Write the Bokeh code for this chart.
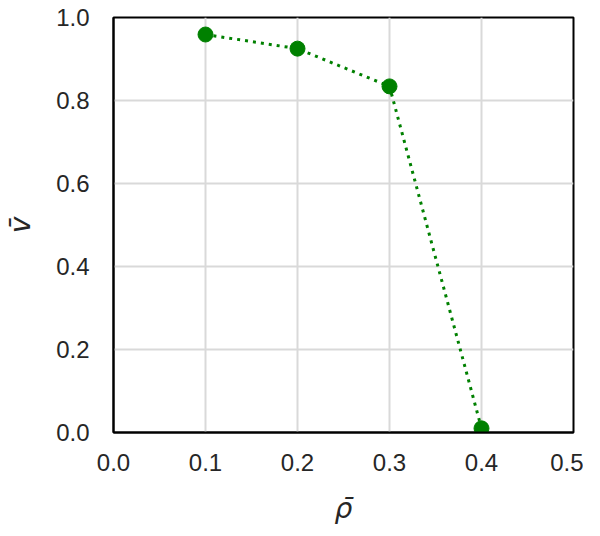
from bokeh.plotting import figure
from bokeh.models import Range1d, FixedTicker, PrintfTickFormatter
from bokeh.embed import file_html
from bokeh.resources import INLINE

rho = [0.1, 0.2, 0.3, 0.4]
v = [0.959, 0.925, 0.834, 0.01]
x_ticks = [0.0, 0.1, 0.2, 0.3, 0.4, 0.5]
y_ticks = [0.0, 0.2, 0.4, 0.6, 0.8, 1.0]

p = figure(width=584, height=520, output_backend="svg", toolbar_location=None,
           x_range=Range1d(0, 0.5), y_range=Range1d(0, 1.0),
           frame_width=460, frame_height=415,
           min_border_left=113, min_border_top=17, min_border_right=10, min_border_bottom=10)

p.line(rho, v, line_color="green", line_width=3, line_dash="3 5")
p.scatter(rho, v, size=15, fill_color="green", line_color="green")

font = "Liberation Sans"
for ax in (p.xaxis[0], p.yaxis[0]):
    ax.major_tick_line_color = None
    ax.minor_tick_line_color = None
    ax.axis_line_color = "black"
    ax.axis_line_width = 2
    ax.major_label_text_font = font
    ax.major_label_text_font_size = "24px"
    ax.major_label_text_color = "#262626"
    ax.axis_label_text_font = "DejaVu Sans"
    ax.axis_label_text_font_size = "28px"
    ax.axis_label_text_font_style = "italic"
    ax.axis_label_text_color = "#262626"
    ax.formatter = PrintfTickFormatter(format="%.1f")

p.xaxis[0].major_label_standoff = 15
p.yaxis[0].major_label_standoff = 18
p.xaxis[0].ticker = FixedTicker(ticks=x_ticks)
p.yaxis[0].ticker = FixedTicker(ticks=y_ticks)
p.xaxis[0].axis_label = "ρ\u0304"
p.yaxis[0].axis_label = "v\u0304"
p.xaxis[0].axis_label_standoff = 18
p.yaxis[0].axis_label_standoff = 16

p.grid.grid_line_color = "#d9d9d9"
p.grid.grid_line_width = 2
p.outline_line_color = "black"
p.outline_line_width = 2
p.background_fill_color = "white"

open("out.html", "w").write(file_html(p, INLINE))
